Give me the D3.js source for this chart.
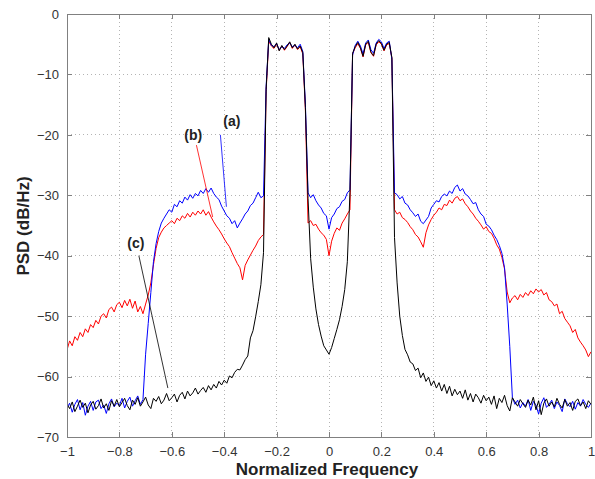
<!DOCTYPE html>
<html><head><meta charset="utf-8">
<script src="https://cdn.jsdelivr.net/npm/d3@7"></script>
<style>body{margin:0;background:#fff}svg{display:block}</style>
</head><body>
<svg id="chart" width="595" height="479"></svg>
<script>
// ---------- DATA ----------
// frequency grid: -1.00 .. 1.00, step 0.01 (201 samples)
const freq = d3.range(201).map(i => +(-1 + i * 0.01).toFixed(2));

// (c) black curve
const psdC = [
  -64.6,-65.3,-64.2,-65.8,-64.9,-63.9,-65.1,-64.4,-66.0,-64.7,
  -64.1,-65.4,-64.8,-63.7,-65.2,-64.5,-65.6,-64.0,-64.9,-63.8,
  -65.0,-64.3,-63.6,-64.8,-65.5,-63.9,-64.6,-63.5,-64.9,-64.2,
  -63.4,-64.7,-65.3,-63.6,-64.1,-63.3,-64.5,-63.9,-62.8,-64.0,
  -63.5,-62.9,-64.2,-63.1,-62.6,-63.7,-62.4,-63.2,-62.7,-61.9,
  -62.9,-62.3,-61.8,-62.6,-61.5,-62.2,-61.3,-61.9,-60.8,-61.4,
  -60.6,-61.1,-59.9,-60.2,-59.3,-58.8,-58.9,-58.1,-57.2,-56.6,
  -53.6,-52.4,-50.1,-47.6,-44.8,-39.5,
  -12.5,-3.9,-5.0,-5.6,-4.8,-6.1,-5.2,-5.9,-5.3,-4.6,-5.6,-5.0,-5.8,-5.3,-6.4,
  -15.5,-30.5,-40.5,-45.2,-48.8,-51.4,-53.3,-54.9,-55.6,-56.3,-55.2,-53.7,-52.2,-50.6,-48.4,-45.6,-41.0,-29.5,-6.5,
  -5.4,-4.7,-5.6,-7.0,-5.0,-4.5,-6.3,-6.9,-5.0,-4.4,-4.9,-6.0,-5.0,-4.7,-7.2,
  -37.0,-44.5,-50.0,-53.2,-55.5,-56.4,-57.6,-57.9,-59.0,-58.6,
  -60.2,-59.4,-60.8,-60.1,-61.5,-60.7,-61.9,-61.0,-62.4,-61.3,
  -62.8,-61.6,-63.2,-62.1,-63.0,-62.4,-63.6,-62.2,-63.9,-62.8,
  -64.2,-62.9,-63.5,-64.4,-63.1,-64.0,-63.4,-64.6,-63.2,-65.3,
  -63.6,-64.3,-63.1,-64.8,-65.7,-63.5,-64.2,-64.9,-63.8,-64.5,
  -65.1,-63.9,-64.7,-63.4,-65.5,-64.0,-66.3,-64.4,-63.7,-64.9,
  -64.2,-65.0,-63.6,-64.6,-65.2,-63.8,-64.9,-64.3,-65.6,-64.1,
  -63.7,-64.8,-64.2,-65.3,-64.0,-64.6
];

// (a) blue curve
const psdA = [
  -65.2,-64.4,-65.9,-64.6,-63.8,-65.5,-64.3,-66.4,-64.9,-64.1,
  -65.6,-64.2,-63.9,-65.3,-64.7,-66.1,-64.5,-63.7,-65.0,-64.4,
  -64.8,-63.6,-65.2,-64.1,-63.4,-64.9,-64.0,-63.2,-64.6,-63.8,
  -56.3,-51.2,-46.1,-41.0,-38.0,-36.0,-34.6,-33.8,-33.1,-32.4,
  -32.8,-31.5,-31.9,-30.9,-31.3,-30.3,-30.8,-29.9,-30.5,-29.7,
  -30.1,-29.2,-29.7,-28.9,-29.5,-28.8,-29.7,-30.3,-30.7,-31.8,
  -32.6,-33.4,-33.8,-34.7,-34.2,-35.4,-34.6,-33.9,-33.1,-32.6,
  -31.7,-31.3,-30.4,-29.5,-30.4,-30.1,
  -12.0,-4.2,-5.2,-5.4,-4.9,-5.9,-5.4,-5.7,-5.1,-4.8,-5.4,-5.2,-5.6,-5.0,-6.2,
  -15.0,-29.6,-30.4,-29.9,-30.9,-31.6,-32.1,-33.0,-33.4,-35.6,-33.7,-33.1,-32.2,-31.9,-31.0,-30.7,-29.6,-29.1,-6.8,
  -5.2,-4.5,-5.3,-6.6,-4.8,-4.3,-5.9,-6.5,-4.8,-4.2,-4.6,-5.7,-4.8,-4.5,-7.5,
  -29.6,-29.9,-30.6,-30.2,-31.3,-31.6,-32.4,-32.9,-33.5,-33.1,
  -34.3,-34.7,-34.1,-33.5,-32.1,-31.5,-30.9,-31.1,-30.2,-29.8,
  -30.1,-29.3,-29.7,-28.7,-28.3,-29.3,-28.9,-29.8,-30.1,-30.7,
  -31.4,-31.2,-32.4,-33.1,-33.5,-34.8,-35.1,-35.7,-36.6,-37.3,
  -38.3,-39.6,-42.0,-48.0,-55.0,-63.5,-64.6,-63.9,-65.2,-64.3,
  -64.9,-63.8,-65.6,-64.1,-64.7,-66.2,-64.4,-63.5,-65.1,-64.6,
  -63.9,-65.3,-64.2,-64.8,-65.8,-63.7,-64.5,-65.0,-64.1,-65.4,
  -64.3,-64.9,-63.8,-64.6,-65.1,-64.4
];

// (b) red curve
const psdB = [
  -55.6,-54.1,-54.9,-53.4,-54.0,-52.7,-53.4,-52.1,-52.7,-51.4,
  -51.9,-50.7,-51.3,-50.0,-49.6,-50.3,-48.9,-48.5,-49.3,-48.1,
  -47.7,-48.6,-47.4,-48.3,-47.2,-48.7,-47.5,-49.3,-48.4,-49.6,
  -48.0,-46.5,-44.5,-41.5,-38.8,-37.0,-36.1,-35.4,-35.0,-34.6,
  -34.2,-34.7,-33.8,-34.2,-33.4,-33.8,-33.0,-33.6,-32.8,-33.3,
  -32.6,-33.1,-32.4,-33.3,-32.7,-33.6,-34.4,-35.1,-35.7,-36.4,
  -37.2,-37.9,-38.5,-39.5,-40.4,-41.3,-42.0,-44.0,-41.6,-40.7,
  -39.9,-39.1,-38.4,-37.5,-36.9,-36.5,
  -12.8,-4.5,-5.3,-5.7,-5.0,-6.0,-5.3,-6.0,-5.4,-4.7,-5.7,-5.1,-5.9,-5.4,-6.6,
  -16.0,-34.6,-34.2,-35.0,-34.8,-35.6,-36.2,-36.6,-37.3,-40.0,-37.6,-36.3,-35.4,-35.8,-34.6,-33.9,-33.1,-32.4,-6.6,
  -5.6,-4.9,-5.7,-7.1,-5.1,-4.7,-6.4,-7.0,-5.1,-4.6,-5.0,-6.1,-5.1,-4.9,-7.3,
  -32.4,-33.1,-32.8,-33.7,-34.0,-34.5,-35.2,-35.7,-36.5,-36.9,
  -37.7,-38.6,-36.2,-34.9,-34.0,-33.3,-32.8,-32.1,-32.4,-31.5,
  -31.7,-30.8,-31.3,-30.5,-30.2,-30.9,-30.6,-31.4,-31.9,-32.6,
  -33.1,-33.8,-34.3,-34.9,-35.6,-35.2,-36.0,-36.3,-37.1,-38.2,
  -38.9,-40.3,-42.2,-46.0,-47.8,-47.0,-46.6,-47.3,-46.4,-46.9,
  -46.1,-46.6,-45.8,-46.3,-45.5,-46.0,-45.6,-46.5,-46.1,-47.3,
  -47.6,-48.3,-48.0,-49.6,-49.2,-50.4,-51.0,-51.6,-52.7,-52.2,
  -53.6,-54.3,-54.9,-55.6,-56.7,-55.9
];

const xTicks = [-1, -0.8, -0.6, -0.4, -0.2, 0, 0.2, 0.4, 0.6, 0.8, 1];
const yTicks = [0, -10, -20, -30, -40, -50, -60, -70];

const annotLabels = ["(a)", "(b)", "(c)"];
const annotTextPos = [[-0.371, -18.5], [-0.518, -20.85], [-0.737, -38.7]];
const annotLineFrom = [[-0.4145, -20.0], [-0.506, -21.7], [-0.7257, -40.0]];
const annotLineTo = [[-0.3916, -31.9], [-0.444, -33.6], [-0.615, -61.9]];

// ---------- STYLE ----------
const colors = { a: "#0000ff", b: "#ff0000", c: "#000000" };
const annotColors = ["#0000ff", "#ff0000", "#000000"];
const plot = { left: 67, right: 591, top: 14, bottom: 437 };
const fontFam = "'Liberation Sans', Arial, Helvetica, sans-serif";

// ---------- DRAW ----------
const svg = d3.select("#chart");
const x = d3.scaleLinear().domain([-1, 1]).range([plot.left, plot.right]);
const y = d3.scaleLinear().domain([-70, 0]).range([plot.bottom, plot.top]);

svg.append("rect").attr("x", 0).attr("y", 0).attr("width", 595).attr("height", 479).attr("fill", "#fff");

// grid
const grid = svg.append("g");
grid.selectAll(".gx").data(xTicks.slice(1, -1)).join("line")
  .attr("x1", d => x(d)).attr("x2", d => x(d))
  .attr("y1", plot.top).attr("y2", plot.bottom)
  .attr("stroke", "#b4b4b4").attr("stroke-width", 1).attr("stroke-dasharray", "1,3")
  .attr("shape-rendering", "crispEdges");
grid.selectAll(".gy").data(yTicks.slice(1, -1)).join("line")
  .attr("y1", d => y(d)).attr("y2", d => y(d))
  .attr("x1", plot.left).attr("x2", plot.right)
  .attr("stroke", "#b4b4b4").attr("stroke-width", 1).attr("stroke-dasharray", "1,3")
  .attr("shape-rendering", "crispEdges");

// clip
svg.append("clipPath").attr("id", "clip").append("rect")
  .attr("x", plot.left).attr("y", plot.top)
  .attr("width", plot.right - plot.left).attr("height", plot.bottom - plot.top);

const line = d3.line().x(d => x(d[0])).y(d => y(d[1]));
const series = [
  { vals: psdB, color: colors.b },
  { vals: psdA, color: colors.a },
  { vals: psdC, color: colors.c }
];
const curves = svg.append("g").attr("clip-path", "url(#clip)");
series.forEach(s => {
  curves.append("path")
    .attr("d", line(freq.map((f, i) => [f, s.vals[i]])))
    .attr("fill", "none").attr("stroke", s.color)
    .attr("stroke-width", 1).attr("stroke-linejoin", "round");
});

// annotations
annotLabels.forEach((lab, i) => {
  svg.append("line")
    .attr("x1", x(annotLineFrom[i][0])).attr("y1", y(annotLineFrom[i][1]))
    .attr("x2", x(annotLineTo[i][0])).attr("y2", y(annotLineTo[i][1]))
    .attr("stroke", annotColors[i]).attr("stroke-width", 1).attr("opacity", 0.8);
  svg.append("text")
    .attr("x", x(annotTextPos[i][0])).attr("y", y(annotTextPos[i][1]))
    .attr("text-anchor", "middle")
    .attr("font-family", fontFam).attr("font-weight", "bold").attr("font-size", 14)
    .attr("fill", "#222").text(lab);
});

// axes frame
svg.append("rect")
  .attr("x", plot.left).attr("y", plot.top)
  .attr("width", plot.right - plot.left).attr("height", plot.bottom - plot.top)
  .attr("fill", "none").attr("stroke", "#808080").attr("stroke-width", 1)
  .attr("shape-rendering", "crispEdges");

// axes with D3 (inward ticks)
const fmt = d3.format("");
const xAxisB = d3.axisBottom(x).tickValues(xTicks).tickSizeInner(-5).tickSizeOuter(0).tickPadding(10).tickFormat(fmt);
const xAxisT = d3.axisTop(x).tickValues(xTicks).tickSizeInner(-5).tickSizeOuter(0).tickFormat("");
const yAxisL = d3.axisLeft(y).tickValues(yTicks).tickSizeInner(-5).tickSizeOuter(0).tickPadding(8).tickFormat(fmt);
const yAxisR = d3.axisRight(y).tickValues(yTicks).tickSizeInner(-5).tickSizeOuter(0).tickFormat("");

function styleAxis(g) {
  g.select(".domain").remove();
  g.selectAll(".tick line").attr("stroke", "#808080").attr("shape-rendering", "crispEdges");
  g.selectAll(".tick text").attr("font-family", fontFam).attr("font-size", 13).attr("fill", "#333");
}
svg.append("g").attr("transform", `translate(0,${plot.bottom})`).call(xAxisB).call(styleAxis);
svg.append("g").attr("transform", `translate(0,${plot.top})`).call(xAxisT).call(styleAxis);
svg.append("g").attr("transform", `translate(${plot.left},0)`).call(yAxisL).call(styleAxis);
svg.append("g").attr("transform", `translate(${plot.right},0)`).call(yAxisR).call(styleAxis);

// labels
svg.append("text")
  .attr("x", (plot.left + plot.right) / 2 - 2).attr("y", 475)
  .attr("text-anchor", "middle")
  .attr("font-family", fontFam).attr("font-weight", "bold").attr("font-size", 17)
  .attr("fill", "#222").text("Normalized Frequency");
svg.append("text")
  .attr("transform", "translate(29,226) rotate(-90)")
  .attr("text-anchor", "middle")
  .attr("font-family", fontFam).attr("font-weight", "bold").attr("font-size", 17)
  .attr("fill", "#222").text("PSD (dB/Hz)");
</script>
</body></html>
